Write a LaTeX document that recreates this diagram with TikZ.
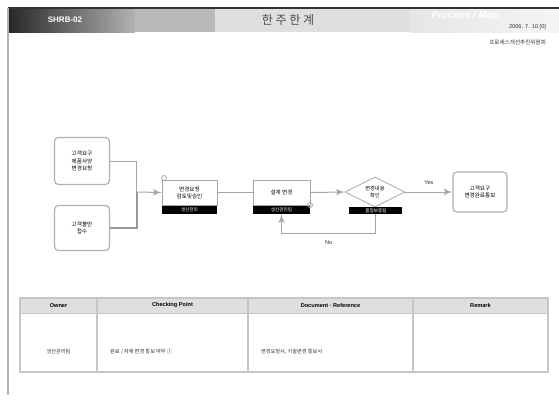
\documentclass[tikz,border=0pt]{standalone}
\usepackage{fontspec}
\setmainfont{Liberation Sans}
\newfontfamily\kr{Noto Sans CJK KR}
\usetikzlibrary{arrows,shapes.geometric}

\begin{document}
\begin{tikzpicture}[x=0.5pt,y=-0.5pt]
\tikzset{step box/.style = {shape=rectangle,draw=gray!70,fill=white,inner sep=0pt,
  minimum width=27.5pt,minimum height=12.5pt,align=center,font=\kr\fontsize{2.8}{3.6}\selectfont}}
\tikzset{start box/.style = {step box,rounded corners=2pt,draw=gray!60,line width=0.6pt}}
\tikzset{dept bar/.style = {shape=rectangle,fill=black,inner sep=0pt,minimum width=27.5pt,
  minimum height=4pt,text=white,font=\kr\fontsize{2.3}{2.6}\selectfont}}
\tikzset{edge/.style = {->,> = latex',draw=gray!70,line width=0.5pt}}
\tikzset{line/.style = {draw=gray!70,line width=0.5pt}}
\tikzset{cell/.style = {font=\kr\fontsize{2.6}{3}\selectfont,text=black!80}}
\useasboundingbox (0,0) rectangle (559,403);
\fill[white] (0,0) rectangle (559,403);
% header
\shade[left color=black!85,right color=gray!60] (8,8) rectangle (135,32);
\fill[gray!55] (135,8) rectangle (215,32);
\fill[gray!25] (215,8) rectangle (410,32);
\shade[left color=gray!20,right color=gray!8] (410,8) rectangle (559,32);
\draw[black!80,line width=0.6pt] (8,8) -- (559,8);
\draw[gray!60,line width=0.8pt] (8,8) -- (8,395);
\node[font=\bfseries\fontsize{4}{5}\selectfont,text=white] (code) at (65,20) {SHRB-02};
\node[font=\kr\fontsize{6}{7}\selectfont,text=gray!60!black] (title) at (288,20) {한 주 한 계};
\node[font=\bfseries\itshape\fontsize{5}{6}\selectfont,text=white] (map) at (465,16) {Process / Map};
\node[font=\fontsize{2.8}{3}\selectfont,anchor=east,text=black!80] (date) at (553,27) {2006. 7. 10 [0]};
\node[font=\kr\fontsize{2.8}{3}\selectfont,anchor=east,text=black!80] (team) at (553,42) {프로세스개선추진위원회};
% vertices
\node[start box,minimum height=23.5pt] (req) at (82,161) {고객요구\\제품사양\\변경요청};
\node[start box,minimum height=22.5pt] (claim) at (82,228) {고객불만\\접수};
\node[step box] (review) at (189.5,192.5) {변경요청\\검토및승인};
\node[dept bar,anchor=north] (reviewbar) at (review.south) {생산관리};
\node[step box,minimum width=28.5pt] (design) at (281.5,192.5) {설계 변경};
\node[dept bar,minimum width=28.5pt,anchor=north] (designbar) at (design.south) {생산관리팀};
\node[shape=diamond,draw=gray!70,fill=white,aspect=2,inner sep=0pt,minimum width=30pt,
  minimum height=15pt,align=center,font=\kr\fontsize{2.6}{3.2}\selectfont] (check) at (375,192) {변경내용\\확인};
\node[dept bar,minimum width=26.5pt,minimum height=3.5pt] (checkbar) at (376,210.5) {품질보증팀};
\node[start box,minimum width=27pt,minimum height=20pt] (done) at (480,192) {고객요구\\변경완료통보};
% markers
\draw[gray!70,line width=0.4pt] (164,178) circle (2.5);
\draw[gray!70,line width=0.4pt] (310,205) circle (2.5);
\coordinate (join) at (137,192);
%edges
\draw[line] (req.east) -| (join);
\draw[line,line width=1.2pt,draw=gray!80] (claim.east) -| (join);
\draw[edge] (join) -- (review.west);
\draw[line] (review.east) -- (design.west);
\draw[edge] (design.east) -- (check.west);
\draw[edge] (check.east) -- node[above,font=\fontsize{2.8}{3}\selectfont,text=black!80] {Yes} (done.west);
\draw[edge] (checkbar.south) -- ++(0,19) -| node[pos=0.25,below,font=\fontsize{2.8}{3}\selectfont,text=black!80] {No} (designbar.south);
% table
\fill[gray!25] (20,298) rectangle (548,313);
\draw[gray!45,line width=0.8pt] (20,298) rectangle (548,372);
\draw[gray!45,line width=0.5pt] (20,313) -- (548,313);
\foreach \x in {97,248,413}
  \draw[gray!45,line width=0.8pt] (\x,298) -- (\x,372);
\node[font=\bfseries\fontsize{2.8}{3}\selectfont] (hownr) at (58.5,305.5) {Owner};
\node[font=\bfseries\fontsize{2.8}{3}\selectfont] (hchk) at (172.5,305.5) {Checking Point};
\node[font=\bfseries\fontsize{2.8}{3}\selectfont] (hdoc) at (330.5,305.5) {Document · Reference};
\node[font=\bfseries\fontsize{2.8}{3}\selectfont] (hrem) at (480.5,305.5) {Remark};
\node[cell] (owner) at (58.5,352) {생산관리팀};
\node[cell,anchor=west] (point) at (103,352) {원료 / 자재 변경 통보 여부 ①};
\node[cell,anchor=west] (doc) at (254,352) {변경요청서, 기술변경 통보서};
\end{tikzpicture}
\end{document}
